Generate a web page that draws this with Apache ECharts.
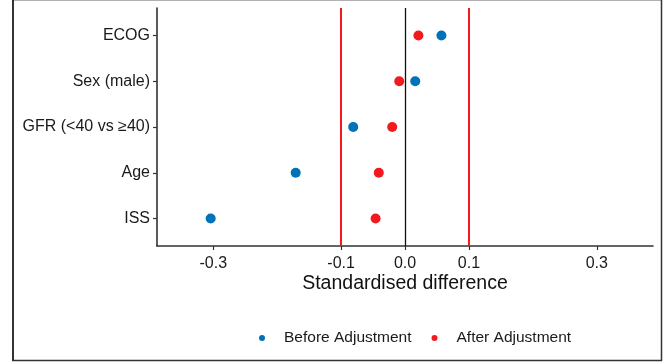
<!DOCTYPE html>
<html>
<head>
<meta charset="utf-8">
<script src="https://cdn.jsdelivr.net/npm/echarts@6/dist/echarts.min.js"></script>
<style>
  html, body { margin: 0; padding: 0; background: #fff; }
  #chart { width: 668px; height: 362px; }
</style>
</head>
<body>
<div id="chart"></div>
<script>
// Covariates, listed bottom to top
const categories = ['ISS', 'Age', 'GFR (<40 vs \u226540)', 'Sex (male)', 'ECOG'];
// Standardised differences per covariate
const beforeAdjustment = [-0.304, -0.171, -0.081, 0.016, 0.057];
const afterAdjustment = [-0.046, -0.041, -0.020, -0.009, 0.021];
// Tick positions on the difference axis
const xTicks = [-0.3, -0.1, 0.0, 0.1, 0.3];
// Balance thresholds and the zero reference
const thresholds = [-0.1, 0.1];
const zeroLine = 0;

const BLUE = '#0072B8';
const RED = '#F31A1E';
const FONT = '"Liberation Sans", Arial, sans-serif';

const toPoints = vals => vals.map((v, i) => [v, i]);

const chart = echarts.init(document.getElementById('chart'), null, { renderer: 'canvas' });

chart.setOption({
  animation: false,
  backgroundColor: '#fff',
  textStyle: { fontFamily: FONT },
  grid: { left: 157, right: 15, top: 8, bottom: 116, containLabel: false },
  xAxis: {
    type: 'value',
    min: -0.388,
    max: 0.388,
    name: 'Standardised difference',
    nameLocation: 'middle',
    nameGap: 28,
    nameMoveOverlap: false,
    nameTextStyle: { fontSize: 19.5, color: '#111', fontFamily: FONT },
    axisLine: { show: true, onZero: false, lineStyle: { color: '#333', width: 1.6 } },
    axisTick: { show: true, length: 4, lineStyle: { color: '#333', width: 1.2 }, customValues: xTicks },
    axisLabel: {
      fontSize: 16, color: '#1a1a1a', margin: 10, fontFamily: FONT,
      customValues: xTicks,
      formatter: v => v.toFixed(1)
    },
    splitLine: { show: false }
  },
  yAxis: {
    type: 'value',
    min: -0.6,
    max: categories.length - 0.4,
    axisLine: { show: true, onZero: false, lineStyle: { color: '#333', width: 1.6 } },
    axisTick: { show: true, length: 4, lineStyle: { color: '#333', width: 1.2 }, customValues: categories.map((c, i) => i) },
    axisLabel: {
      fontSize: 16, color: '#1a1a1a', margin: 7, fontFamily: FONT,
      customValues: categories.map((c, i) => i),
      formatter: v => categories[Math.round(v)]
    },
    splitLine: { show: false }
  },
  legend: {
    left: 254,
    top: 325,
    itemWidth: 6,
    itemHeight: 6,
    itemGap: 20,
    icon: 'circle',
    textStyle: { fontSize: 15.5, color: '#1a1a1a', padding: [0, 0, 0, 14], fontFamily: FONT },
    data: ['Before Adjustment', 'After Adjustment']
  },
  series: [
    {
      name: 'Before Adjustment',
      type: 'scatter',
      symbolSize: 10,
      itemStyle: { color: BLUE, opacity: 1 },
      data: toPoints(beforeAdjustment),
      z: 5,
      markLine: {
        silent: true,
        symbol: 'none',
        label: { show: false },
        lineStyle: { color: RED, width: 2, type: 'solid' },
        data: thresholds.map(t => ({ xAxis: t }))
      }
    },
    {
      name: 'After Adjustment',
      type: 'scatter',
      symbolSize: 10,
      itemStyle: { color: RED, opacity: 1 },
      data: toPoints(afterAdjustment),
      z: 5,
      markLine: {
        silent: true,
        symbol: 'none',
        label: { show: false },
        lineStyle: { color: '#111', width: 1.3, type: 'solid' },
        data: [{ xAxis: zeroLine }]
      }
    }
  ],
  graphic: [
    // outer frame
    { type: 'line', shape: { x1: 13, y1: 0.5, x2: 662, y2: 0.5 }, style: { stroke: '#b0b0b0', lineWidth: 1 }, silent: true },
    { type: 'line', shape: { x1: 13, y1: 0, x2: 13, y2: 361 }, style: { stroke: '#333', lineWidth: 2 }, silent: true },
    { type: 'line', shape: { x1: 661.5, y1: 0, x2: 661.5, y2: 361 }, style: { stroke: '#333', lineWidth: 1.5 }, silent: true },
    { type: 'line', shape: { x1: 12, y1: 360.5, x2: 662, y2: 360.5 }, style: { stroke: '#333', lineWidth: 1.5 }, silent: true }
  ]
});
</script>
</body>
</html>
